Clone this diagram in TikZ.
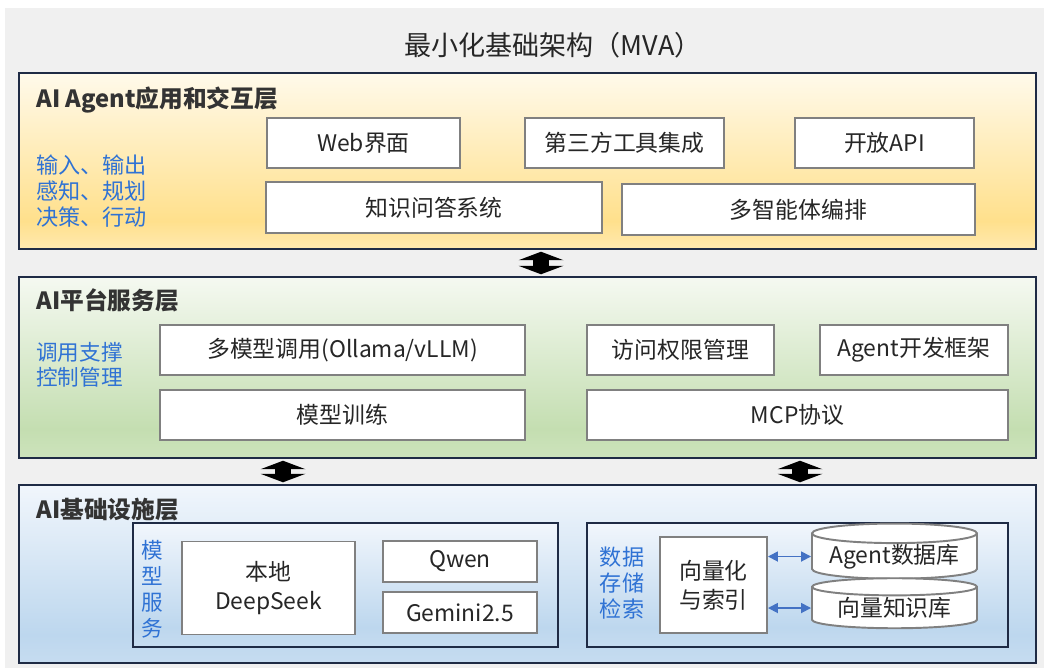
\documentclass[tikz,border=0pt]{standalone}
\usepackage{fontspec}
\setmainfont{Noto Sans CJK SC}
\usepackage{tikz}
\usetikzlibrary{calc,positioning,arrows.meta,shapes.geometric}

\definecolor{bggray}{HTML}{F0F0F0}
\definecolor{navy}{HTML}{1F2B45}
\definecolor{boxgray}{HTML}{808080}
\definecolor{txtblue}{HTML}{2F72D4}
\definecolor{arrblue}{HTML}{4472C4}
\definecolor{txtdark}{HTML}{262626}
\definecolor{ttlcol}{HTML}{333333}
\definecolor{yelA}{HTML}{FFFAEB}
\definecolor{yelB}{HTML}{FFE08C}
\definecolor{yelC}{HTML}{FFE9B0}
\definecolor{grnA}{HTML}{F5F9F1}
\definecolor{grnB}{HTML}{C4DEB1}
\definecolor{grnC}{HTML}{CDE3BC}
\definecolor{bluA}{HTML}{F1F6FC}
\definecolor{bluB}{HTML}{BDD7EE}
\definecolor{bluC}{HTML}{C6DCF0}

\pgfdeclareverticalshading{yelshade}{100bp}{color(0bp)=(yelC); color(25bp)=(yelC); color(33bp)=(yelB); color(75bp)=(yelA); color(100bp)=(yelA)}
\pgfdeclareverticalshading{grnshade}{100bp}{color(0bp)=(grnC); color(25bp)=(grnC); color(33bp)=(grnB); color(75bp)=(grnA); color(100bp)=(grnA)}
\pgfdeclareverticalshading{blushade}{100bp}{color(0bp)=(bluC); color(25bp)=(bluC); color(33bp)=(bluB); color(75bp)=(bluA); color(100bp)=(bluA)}

\newlength\px
\setlength\px{0.02cm}

\tikzstyle{layer}     = [draw=navy, line width=1.1pt, shade, inner sep=0pt]
\tikzstyle{box}       = [draw=boxgray, line width=1.1pt, fill=white, inner sep=0pt, text=txtdark, align=center, font=\fontsize{13}{16}\selectfont]
\tikzstyle{ltitle}    = [anchor=west, inner sep=0pt, text=ttlcol, font=\bfseries\fontsize{13.5}{16}\selectfont]
\tikzstyle{side}      = [inner sep=0pt, text=txtblue, font=\fontsize{12.6}{14.8}\selectfont]
\tikzstyle{db}        = [cylinder, shape border rotate=90, aspect=0.15, draw=boxgray, line width=1.1pt, fill=white, inner sep=0pt, text=txtdark, font=\fontsize{13}{16}\selectfont]
\tikzstyle{bigarrow}  = [line width=0.32cm, preaction={draw, -, shorten <=4pt, shorten >=4pt}, {Triangle[length=0.17cm,width=0.9cm,line width=0pt]}-{Triangle[length=0.17cm,width=0.9cm,line width=0pt]}, shorten <=1pt, shorten >=1pt]
\tikzstyle{smallarrow}= [draw=arrblue, line width=1pt, {Triangle[length=0.2cm,width=0.2cm]}-{Triangle[length=0.2cm,width=0.2cm]}]

\begin{document}
\begin{tikzpicture}[x=0.02cm,y=-0.02cm]
        \useasboundingbox (0,0) rectangle (1044,670);
        \fill[bggray] (5,8) rectangle (1044,668);

        \node[inner sep=0pt, text=txtdark, font=\fontsize{15.4}{18}\selectfont] (ttl) at (553,45) {最小化基础架构（MVA）};

        % application layer
        \node[layer, shading=yelshade, minimum width=1017\px, minimum height=176\px] (l1) at (527.5,161) {};
        \node[ltitle] (t1) at (36,100) {AI Agent应用和交互层};
        \node[side, anchor=west, align=left] (s1) at (36,191) {输入、输出\\感知、规划\\决策、行动};
        \node[box, minimum width=193\px, minimum height=50\px] (web) at (363.5,143) {Web界面};
        \node[box, minimum width=199\px, minimum height=50\px] (tools) at (624.5,143) {第三方工具集成};
        \node[box, minimum width=179\px, minimum height=50\px] (api) at (884.5,143) {开放API};
        \node[box, minimum width=336\px, minimum height=51\px] (qa) at (434,207.5) {知识问答系统};
        \node[box, minimum width=353\px, minimum height=51\px] (mas) at (798.5,209.5) {多智能体编排};

        % platform layer
        \node[layer, shading=grnshade, minimum width=1017\px, minimum height=181\px] (l2) at (527.5,367.5) {};
        \node[ltitle] (t2) at (36,300) {AI平台服务层};
        \node[side, anchor=west, align=left, font=\fontsize{12.3}{14.2}\selectfont] (s2) at (36,364.5) {调用支撑\\控制管理};
        \node[box, minimum width=365\px, minimum height=50\px] (multi) at (342.5,350) {多模型调用(Ollama/vLLM)};
        \node[box, minimum width=187\px, minimum height=50\px] (access) at (680.5,350) {访问权限管理};
        \node[box, minimum width=188\px, minimum height=50\px] (frame) at (914,350) {Agent开发框架};
        \node[box, minimum width=365\px, minimum height=50\px] (train) at (342.5,415) {模型训练};
        \node[box, minimum width=421\px, minimum height=50\px] (mcp) at (797.5,415) {MCP协议};

        % infrastructure layer
        \node[layer, shading=blushade, minimum width=1017\px, minimum height=178\px] (l3) at (527.5,574) {};
        \node[ltitle] (t3) at (36,510) {AI基础设施层};
        \node[layer, shading=blushade, minimum width=425\px, minimum height=124\px] (models) at (345.5,585) {};
        \node[layer, shading=blushade, minimum width=421\px, minimum height=124\px] (data) at (797.5,585) {};
        \node[side, align=center, font=\fontsize{12.3}{14.8}\selectfont] (s3) at (152,589) {模\\型\\服\\务};
        \node[box, minimum width=173\px, minimum height=93\px, font=\fontsize{13}{16.5}\selectfont] (ds) at (268.5,588) {本地\\DeepSeek};
        \node[box, minimum width=154\px, minimum height=41\px] (qwen) at (460,561.5) {Qwen};
        \node[box, minimum width=154\px, minimum height=41\px] (gem) at (460,612.5) {Gemini2.5};
        \node[side, align=center] (s4) at (622,583.5) {数据\\存储\\检索};
        \node[box, minimum width=107\px, minimum height=96\px, font=\fontsize{13}{16.5}\selectfont] (vec) at (713.5,585) {向量化\\与索引};
        \node[db, minimum width=165\px, minimum height=47\px] (db1) at (894.5,556.5) {Agent数据库};
        \node[db, minimum width=165\px, minimum height=50\px] (db2) at (894.5,608) {向量知识库};

        % connectors
        \draw[bigarrow] ($(l1.south)+(13.5,0)$) -- ($(l2.north)+(13.5,0)$);
        \draw[bigarrow] ($(l2.south)+(-244.5,0)$) -- ($(l3.north)+(-244.5,0)$);
        \draw[bigarrow] ($(l2.south)+(272.5,0)$) -- ($(l3.north)+(272.5,0)$);
        \draw[smallarrow] (db1.west -| vec.east) -- (db1.west);
        \draw[smallarrow] (db2.west -| vec.east) -- (db2.west);
\end{tikzpicture}
\end{document}
